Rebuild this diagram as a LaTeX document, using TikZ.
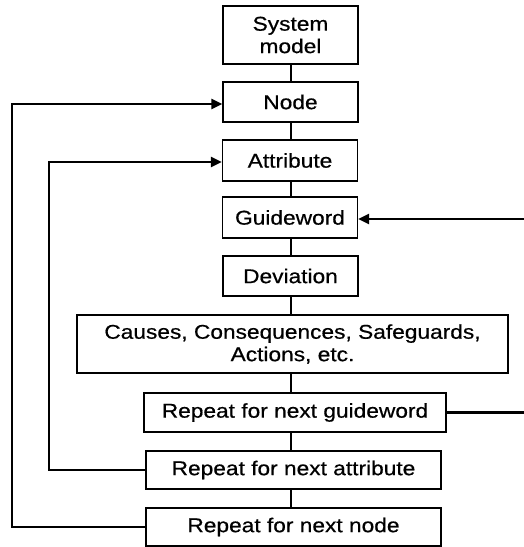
\documentclass[tikz,border=0pt]{standalone}
\usepackage{fontspec}
\setmainfont{Liberation Sans}[FakeStretch=1.14, FakeBold=0.6]
\usetikzlibrary{arrows.meta}
\begin{document}
\begin{tikzpicture}[x=1bp,y=-1bp,
  box/.style={draw, line width=1.3bp, minimum width=135bp, minimum height=40bp,
    inner sep=0pt, align=center, font=\fontsize{20}{22.5}\selectfont},
  link/.style={line width=2.4bp},
  fb/.style={line width=2.4bp, -{Triangle[length=11bp,width=10bp]}}]
\useasboundingbox (0,0) rectangle (524,547);
\clip (0,0) rectangle (524,547);

% main chain of steps
\node[box, minimum height=58bp] (sys) at (290.5,35) {System\\model};
\node[box] (node) at (290.5,102) {Node};
\node[box, minimum height=41bp] (attr) at (290,160.5) {Attribute};
\node[box, minimum height=41bp] (guide) at (290,217.5) {Guideword};
\node[box] (dev) at (290.5,276) {Deviation};
\node[box, minimum width=431bp, minimum height=58bp] (cause) at (292.5,344)
  {Causes, Consequences, Safeguards,\\Actions, etc.};
\node[box, minimum width=302bp, minimum height=39bp] (rg) at (295,412.5) {Repeat for next guideword};
\node[box, minimum width=295bp, minimum height=38bp] (ra) at (293.5,470) {Repeat for next attribute};
\node[box, minimum width=295bp, minimum height=38bp] (rn) at (293.5,527) {Repeat for next node};

% spine
\coordinate (spine) at (291,0);
\foreach \a/\b in {sys/node, node/attr, attr/guide, guide/dev, dev/cause, cause/rg, rg/ra, ra/rn}
  \draw[link] (\a.south -| spine) -- (\b.north -| spine);

% feedback loops
\coordinate (outer) at (12,0);
\coordinate (inner) at (49,0);
\coordinate (right) at (528,0);
\draw[fb] (rn.west) -- (rn.west -| outer) -- ([yshift=-2bp]node.west -| outer) -- ([yshift=-2bp]node.west);
\draw[fb] (ra.west) -- (ra.west -| inner) -- ([yshift=-1.5bp]attr.west -| inner) -- ([yshift=-1.5bp]attr.west);
\draw[fb] (rg.east) -- (rg.east -| right) -- ([yshift=-1.5bp]guide.east -| right) -- ([yshift=-1.5bp]guide.east);
\end{tikzpicture}
\end{document}
